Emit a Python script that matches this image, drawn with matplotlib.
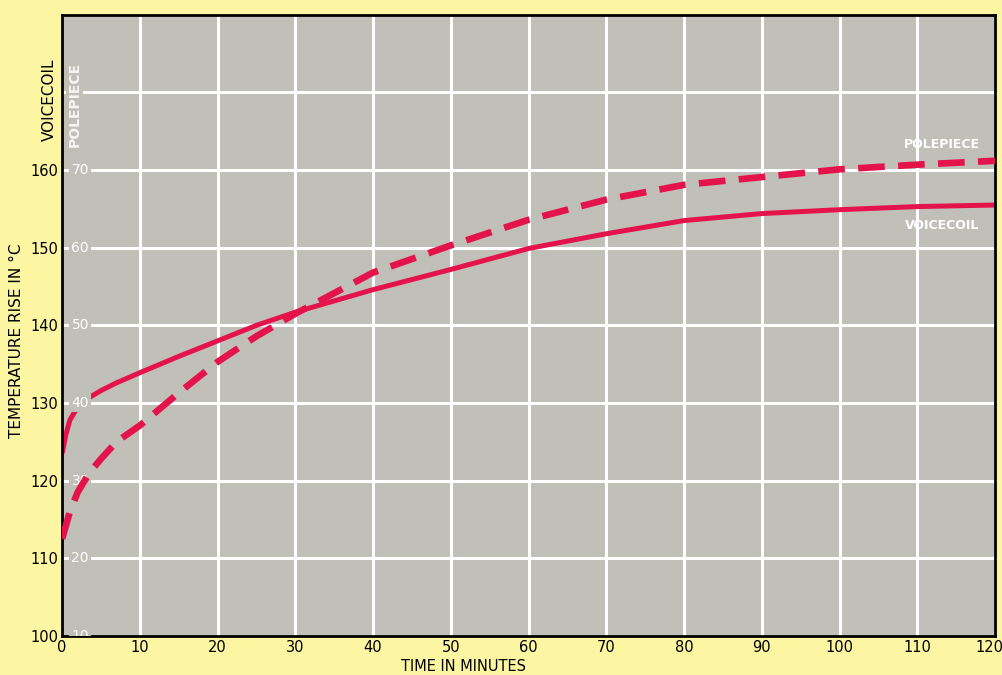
import numpy as np
import matplotlib
matplotlib.use("Agg")
import matplotlib.pyplot as plt
from matplotlib.transforms import ScaledTranslation

# time in minutes
time_vc = [0, 0.5, 1, 2, 3, 5, 7, 10, 15, 20, 25, 30, 40, 50, 60, 70, 80, 90, 100, 110, 120]
# voicecoil temperature rise (deg C)
voicecoil = [123.5, 126.0, 127.8, 129.5, 130.4, 131.6, 132.6, 133.9, 136.0, 138.0, 140.0, 141.7,
             144.6, 147.2, 149.9, 151.8, 153.5, 154.4, 154.9, 155.3, 155.5]

time_pp = [0, 1, 2, 3.5, 5, 7, 10, 15, 20, 25, 30, 40, 50, 60, 70, 80, 90, 100, 110, 120]
# polepiece temperature rise (deg C, its own scale)
polepiece = [22.5, 26.0, 28.5, 31.0, 32.8, 35.0, 37.1, 41.3, 45.3, 48.6, 51.5, 56.8,
             60.3, 63.6, 66.2, 68.1, 69.1, 70.1, 70.7, 71.2]

x_ticks = list(range(0, 130, 10))
vc_ticks = [100, 110, 120, 130, 140, 150, 160]
pp_ticks = [10, 20, 30, 40, 50, 60, 70]

yellow = '#fcf5a2'
gray = '#c0c0b9'
red = '#e5134c'

fig = plt.figure(figsize=(10.02, 6.75), dpi=100)
fig.patch.set_facecolor(yellow)
ax = fig.add_axes([0.062, 0.058, 0.931, 0.920])
ax.set_facecolor(gray)
ax.set_xlim(0, 120)
ax.set_ylim(100, 180)

# white grid
for xv in x_ticks[1:]:
    ax.axvline(xv, color='white', lw=2.2, zorder=1)
for yv in range(110, 180, 10):
    ax.axhline(yv, color='white', lw=2.2, zorder=1)

ax.set_xticks(x_ticks)
ax.set_yticks(vc_ticks)
ax.set_yticklabels([str(v) for v in vc_ticks])
ax.tick_params(length=0, labelsize=10.5, pad=3)
# last x label sits on the page edge, nudge it in a bit
last = ax.get_xticklabels()[-1]
last.set_transform(last.get_transform() + ScaledTranslation(-6 / 100, 0, fig.dpi_scale_trans))
for s in ax.spines.values():
    s.set_color('black')
    s.set_linewidth(2)
    s.set_zorder(6)

ax.set_xlabel('TIME IN MINUTES', fontsize=10.5)
ax.xaxis.set_label_coords(0.43, -0.037)
fig.text(0.016, 0.495, 'TEMPERATURE RISE IN \u00b0C', rotation=90, fontsize=11,
         ha='center', va='center')
fig.text(0.049, 0.852, 'VOICECOIL', rotation=90, fontsize=11, ha='center', va='center')

# second scale for polepiece
ax2 = ax.twinx()
ax2.set_ylim(10, 90)
ax2.axis('off')

for v in pp_ticks:
    ax2.text(1.2, v, str(v), color='white', fontsize=10, ha='left', va='center',
             zorder=3, clip_on=True, bbox=dict(facecolor=gray, edgecolor='none', pad=1.5))
ax2.text(1.6, 78.5, 'POLEPIECE', color='white', fontsize=10, fontweight='bold',
         rotation=90, ha='center', va='center', alpha=0.85,
         bbox=dict(facecolor=gray, edgecolor='none', pad=1))

ax.plot(time_vc, voicecoil, color=red, lw=3.6, solid_capstyle='butt', zorder=4)
ax2.plot(time_pp, polepiece, color=red, lw=4.8, dashes=(4, 2), zorder=4)

ax.text(118, 163.3, 'POLEPIECE', color='white', fontsize=9, fontweight='bold',
        ha='right', va='center', zorder=5)
ax.text(118, 152.8, 'VOICECOIL', color='white', fontsize=9, fontweight='bold',
        ha='right', va='center', zorder=5)

fig.savefig('out.png', dpi=100, facecolor=yellow)
